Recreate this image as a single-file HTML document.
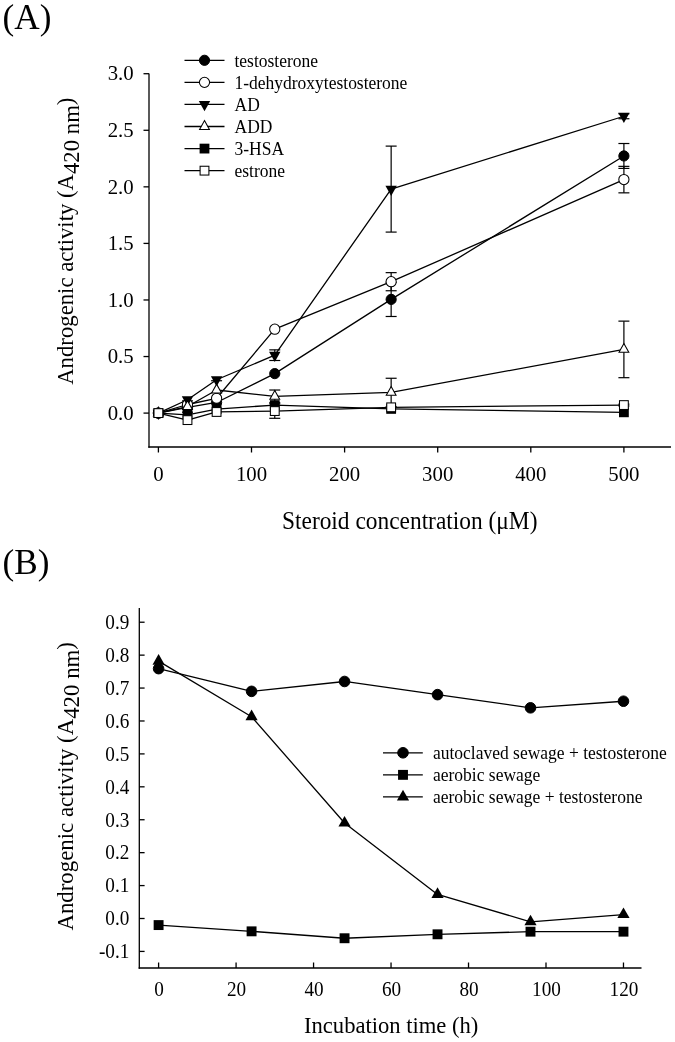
<!DOCTYPE html>
<html><head><meta charset="utf-8"><style>
html,body{margin:0;padding:0;background:#fff;}
svg{display:block;will-change:transform;}
text{font-family:"Liberation Serif",serif;fill:#000;}
</style></head><body>
<svg width="675" height="1042" viewBox="0 0 675 1042">
<rect width="675" height="1042" fill="#fff"/>
<line x1="149.00" y1="73.50" x2="149.00" y2="447.65" stroke="#000" stroke-width="1.3"/>
<line x1="148.35" y1="447.00" x2="671.00" y2="447.00" stroke="#000" stroke-width="1.3"/>
<line x1="143.50" y1="413.10" x2="149.00" y2="413.10" stroke="#000" stroke-width="1.3"/>
<text transform="translate(133.70,419.80) scale(1,1.03)" font-size="20.8" text-anchor="end" >0.0</text>
<line x1="143.50" y1="356.54" x2="149.00" y2="356.54" stroke="#000" stroke-width="1.3"/>
<text transform="translate(133.70,363.24) scale(1,1.03)" font-size="20.8" text-anchor="end" >0.5</text>
<line x1="143.50" y1="299.97" x2="149.00" y2="299.97" stroke="#000" stroke-width="1.3"/>
<text transform="translate(133.70,306.67) scale(1,1.03)" font-size="20.8" text-anchor="end" >1.0</text>
<line x1="143.50" y1="243.41" x2="149.00" y2="243.41" stroke="#000" stroke-width="1.3"/>
<text transform="translate(133.70,250.11) scale(1,1.03)" font-size="20.8" text-anchor="end" >1.5</text>
<line x1="143.50" y1="186.84" x2="149.00" y2="186.84" stroke="#000" stroke-width="1.3"/>
<text transform="translate(133.70,193.54) scale(1,1.03)" font-size="20.8" text-anchor="end" >2.0</text>
<line x1="143.50" y1="130.28" x2="149.00" y2="130.28" stroke="#000" stroke-width="1.3"/>
<text transform="translate(133.70,136.98) scale(1,1.03)" font-size="20.8" text-anchor="end" >2.5</text>
<line x1="143.50" y1="73.71" x2="149.00" y2="73.71" stroke="#000" stroke-width="1.3"/>
<text transform="translate(133.70,80.41) scale(1,1.03)" font-size="20.8" text-anchor="end" >3.0</text>
<line x1="158.40" y1="447.00" x2="158.40" y2="452.50" stroke="#000" stroke-width="1.3"/>
<text transform="translate(158.40,480.50) scale(1,1.03)" font-size="20.8" text-anchor="middle" >0</text>
<line x1="251.50" y1="447.00" x2="251.50" y2="452.50" stroke="#000" stroke-width="1.3"/>
<text transform="translate(251.50,480.50) scale(1,1.03)" font-size="20.8" text-anchor="middle" >100</text>
<line x1="344.60" y1="447.00" x2="344.60" y2="452.50" stroke="#000" stroke-width="1.3"/>
<text transform="translate(344.60,480.50) scale(1,1.03)" font-size="20.8" text-anchor="middle" >200</text>
<line x1="437.70" y1="447.00" x2="437.70" y2="452.50" stroke="#000" stroke-width="1.3"/>
<text transform="translate(437.70,480.50) scale(1,1.03)" font-size="20.8" text-anchor="middle" >300</text>
<line x1="530.80" y1="447.00" x2="530.80" y2="452.50" stroke="#000" stroke-width="1.3"/>
<text transform="translate(530.80,480.50) scale(1,1.03)" font-size="20.8" text-anchor="middle" >400</text>
<line x1="623.90" y1="447.00" x2="623.90" y2="452.50" stroke="#000" stroke-width="1.3"/>
<text transform="translate(623.90,480.50) scale(1,1.03)" font-size="20.8" text-anchor="middle" >500</text>
<text x="2.60" y="28.60" font-size="35.2" text-anchor="start" >(A)</text>
<text transform="translate(282.00,528.80) scale(1,1.04)" font-size="23.4" text-anchor="start" >Steroid concentration (μM)</text>
<text transform="translate(73.3,384.8) rotate(-90) scale(1,1.04)" font-size="22.75">Androgenic activity (A<tspan dy="5.3">420 nm</tspan><tspan dy="-5.3">)</tspan></text>
<line x1="391.15" y1="282.32" x2="391.15" y2="316.49" stroke="#000" stroke-width="1.2"/>
<line x1="385.65" y1="282.32" x2="396.65" y2="282.32" stroke="#000" stroke-width="1.2"/>
<line x1="385.65" y1="316.49" x2="396.65" y2="316.49" stroke="#000" stroke-width="1.2"/>
<line x1="623.90" y1="143.51" x2="623.90" y2="168.40" stroke="#000" stroke-width="1.2"/>
<line x1="618.40" y1="143.51" x2="629.40" y2="143.51" stroke="#000" stroke-width="1.2"/>
<line x1="618.40" y1="168.40" x2="629.40" y2="168.40" stroke="#000" stroke-width="1.2"/>
<line x1="391.15" y1="272.64" x2="391.15" y2="290.74" stroke="#000" stroke-width="1.2"/>
<line x1="385.65" y1="272.64" x2="396.65" y2="272.64" stroke="#000" stroke-width="1.2"/>
<line x1="385.65" y1="290.74" x2="396.65" y2="290.74" stroke="#000" stroke-width="1.2"/>
<line x1="623.90" y1="166.36" x2="623.90" y2="192.84" stroke="#000" stroke-width="1.2"/>
<line x1="618.40" y1="166.36" x2="629.40" y2="166.36" stroke="#000" stroke-width="1.2"/>
<line x1="618.40" y1="192.84" x2="629.40" y2="192.84" stroke="#000" stroke-width="1.2"/>
<line x1="274.77" y1="349.86" x2="274.77" y2="360.49" stroke="#000" stroke-width="1.2"/>
<line x1="269.27" y1="349.86" x2="280.27" y2="349.86" stroke="#000" stroke-width="1.2"/>
<line x1="269.27" y1="360.49" x2="280.27" y2="360.49" stroke="#000" stroke-width="1.2"/>
<line x1="391.15" y1="146.11" x2="391.15" y2="232.09" stroke="#000" stroke-width="1.2"/>
<line x1="385.65" y1="146.11" x2="396.65" y2="146.11" stroke="#000" stroke-width="1.2"/>
<line x1="385.65" y1="232.09" x2="396.65" y2="232.09" stroke="#000" stroke-width="1.2"/>
<line x1="623.90" y1="113.76" x2="623.90" y2="118.74" stroke="#000" stroke-width="1.2"/>
<line x1="618.40" y1="113.76" x2="629.40" y2="113.76" stroke="#000" stroke-width="1.2"/>
<line x1="618.40" y1="118.74" x2="629.40" y2="118.74" stroke="#000" stroke-width="1.2"/>
<line x1="187.49" y1="400.88" x2="187.49" y2="412.19" stroke="#000" stroke-width="1.2"/>
<line x1="181.99" y1="400.88" x2="192.99" y2="400.88" stroke="#000" stroke-width="1.2"/>
<line x1="181.99" y1="412.19" x2="192.99" y2="412.19" stroke="#000" stroke-width="1.2"/>
<line x1="216.59" y1="380.74" x2="216.59" y2="399.30" stroke="#000" stroke-width="1.2"/>
<line x1="211.09" y1="380.74" x2="222.09" y2="380.74" stroke="#000" stroke-width="1.2"/>
<line x1="211.09" y1="399.30" x2="222.09" y2="399.30" stroke="#000" stroke-width="1.2"/>
<line x1="274.77" y1="390.02" x2="274.77" y2="402.69" stroke="#000" stroke-width="1.2"/>
<line x1="269.27" y1="390.02" x2="280.27" y2="390.02" stroke="#000" stroke-width="1.2"/>
<line x1="269.27" y1="402.69" x2="280.27" y2="402.69" stroke="#000" stroke-width="1.2"/>
<line x1="391.15" y1="378.26" x2="391.15" y2="406.54" stroke="#000" stroke-width="1.2"/>
<line x1="385.65" y1="378.26" x2="396.65" y2="378.26" stroke="#000" stroke-width="1.2"/>
<line x1="385.65" y1="406.54" x2="396.65" y2="406.54" stroke="#000" stroke-width="1.2"/>
<line x1="623.90" y1="321.13" x2="623.90" y2="377.69" stroke="#000" stroke-width="1.2"/>
<line x1="618.40" y1="321.13" x2="629.40" y2="321.13" stroke="#000" stroke-width="1.2"/>
<line x1="618.40" y1="377.69" x2="629.40" y2="377.69" stroke="#000" stroke-width="1.2"/>
<line x1="274.77" y1="403.82" x2="274.77" y2="418.30" stroke="#000" stroke-width="1.2"/>
<line x1="269.27" y1="403.82" x2="280.27" y2="403.82" stroke="#000" stroke-width="1.2"/>
<line x1="269.27" y1="418.30" x2="280.27" y2="418.30" stroke="#000" stroke-width="1.2"/>
<line x1="623.90" y1="404.16" x2="623.90" y2="405.97" stroke="#000" stroke-width="1.2"/>
<line x1="618.40" y1="404.16" x2="629.40" y2="404.16" stroke="#000" stroke-width="1.2"/>
<line x1="618.40" y1="405.97" x2="629.40" y2="405.97" stroke="#000" stroke-width="1.2"/>
<polyline points="158.40,413.10 187.49,407.44 216.59,402.47 274.77,373.62 391.15,299.40 623.90,155.96" fill="none" stroke="#000" stroke-width="1.3" stroke-linejoin="round"/>
<polyline points="158.40,413.10 187.49,404.50 216.59,398.28 274.77,329.16 391.15,281.69 623.90,179.60" fill="none" stroke="#000" stroke-width="1.3" stroke-linejoin="round"/>
<polyline points="158.40,413.10 187.49,399.75 216.59,379.73 274.77,355.18 391.15,189.10 623.90,116.25" fill="none" stroke="#000" stroke-width="1.3" stroke-linejoin="round"/>
<polyline points="158.40,413.10 187.49,406.54 216.59,390.02 274.77,396.36 391.15,392.40 623.90,349.41" fill="none" stroke="#000" stroke-width="1.3" stroke-linejoin="round"/>
<polyline points="158.40,413.10 187.49,414.80 216.59,409.14 274.77,405.07 391.15,408.91 623.90,412.31" fill="none" stroke="#000" stroke-width="1.3" stroke-linejoin="round"/>
<polyline points="158.40,413.10 187.49,420.11 216.59,411.97 274.77,411.06 391.15,407.33 623.90,405.07" fill="none" stroke="#000" stroke-width="1.3" stroke-linejoin="round"/>
<circle cx="158.40" cy="413.10" r="5.10" fill="#000" stroke="#000" stroke-width="1"/>
<circle cx="187.49" cy="407.44" r="5.10" fill="#000" stroke="#000" stroke-width="1"/>
<circle cx="216.59" cy="402.47" r="5.10" fill="#000" stroke="#000" stroke-width="1"/>
<circle cx="274.77" cy="373.62" r="5.10" fill="#000" stroke="#000" stroke-width="1"/>
<circle cx="391.15" cy="299.40" r="5.10" fill="#000" stroke="#000" stroke-width="1"/>
<circle cx="623.90" cy="155.96" r="5.10" fill="#000" stroke="#000" stroke-width="1"/>
<circle cx="158.40" cy="413.10" r="5.10" fill="#fff" stroke="#000" stroke-width="1.05"/>
<circle cx="187.49" cy="404.50" r="5.10" fill="#fff" stroke="#000" stroke-width="1.05"/>
<circle cx="216.59" cy="398.28" r="5.10" fill="#fff" stroke="#000" stroke-width="1.05"/>
<circle cx="274.77" cy="329.16" r="5.10" fill="#fff" stroke="#000" stroke-width="1.05"/>
<circle cx="391.15" cy="281.69" r="5.10" fill="#fff" stroke="#000" stroke-width="1.05"/>
<circle cx="623.90" cy="179.60" r="5.10" fill="#fff" stroke="#000" stroke-width="1.05"/>
<path d="M152.70,409.70 L164.10,409.70 L158.40,419.90 Z" fill="#000"/>
<path d="M181.79,396.35 L193.19,396.35 L187.49,406.55 Z" fill="#000"/>
<path d="M210.89,376.33 L222.29,376.33 L216.59,386.53 Z" fill="#000"/>
<path d="M269.07,351.78 L280.47,351.78 L274.77,361.98 Z" fill="#000"/>
<path d="M385.45,185.70 L396.85,185.70 L391.15,195.90 Z" fill="#000"/>
<path d="M618.20,112.85 L629.60,112.85 L623.90,123.05 Z" fill="#000"/>
<path d="M158.40,407.20 L163.30,416.00 L153.50,416.00 Z" fill="#fff" stroke="#000" stroke-width="1.05" stroke-linejoin="miter"/>
<path d="M187.49,400.64 L192.39,409.44 L182.59,409.44 Z" fill="#fff" stroke="#000" stroke-width="1.05" stroke-linejoin="miter"/>
<path d="M216.59,384.12 L221.49,392.92 L211.69,392.92 Z" fill="#fff" stroke="#000" stroke-width="1.05" stroke-linejoin="miter"/>
<path d="M274.77,390.46 L279.67,399.26 L269.88,399.26 Z" fill="#fff" stroke="#000" stroke-width="1.05" stroke-linejoin="miter"/>
<path d="M391.15,386.50 L396.05,395.30 L386.25,395.30 Z" fill="#fff" stroke="#000" stroke-width="1.05" stroke-linejoin="miter"/>
<path d="M623.90,343.51 L628.80,352.31 L619.00,352.31 Z" fill="#fff" stroke="#000" stroke-width="1.05" stroke-linejoin="miter"/>
<rect x="153.50" y="408.20" width="9.80" height="9.80" fill="#000"/>
<rect x="182.59" y="409.90" width="9.80" height="9.80" fill="#000"/>
<rect x="211.69" y="404.24" width="9.80" height="9.80" fill="#000"/>
<rect x="269.88" y="400.17" width="9.80" height="9.80" fill="#000"/>
<rect x="386.25" y="404.01" width="9.80" height="9.80" fill="#000"/>
<rect x="619.00" y="407.41" width="9.80" height="9.80" fill="#000"/>
<rect x="154.00" y="408.70" width="8.80" height="8.80" fill="#fff" stroke="#000" stroke-width="1.05"/>
<rect x="183.09" y="415.71" width="8.80" height="8.80" fill="#fff" stroke="#000" stroke-width="1.05"/>
<rect x="212.19" y="407.57" width="8.80" height="8.80" fill="#fff" stroke="#000" stroke-width="1.05"/>
<rect x="270.38" y="406.66" width="8.80" height="8.80" fill="#fff" stroke="#000" stroke-width="1.05"/>
<rect x="386.75" y="402.93" width="8.80" height="8.80" fill="#fff" stroke="#000" stroke-width="1.05"/>
<rect x="619.50" y="400.67" width="8.80" height="8.80" fill="#fff" stroke="#000" stroke-width="1.05"/>
<line x1="184.50" y1="60.30" x2="224.50" y2="60.30" stroke="#000" stroke-width="1.3"/>
<circle cx="204.50" cy="60.30" r="5.10" fill="#000" stroke="#000" stroke-width="1"/>
<text transform="translate(234.50,66.50) scale(1,1.03)" font-size="17.5" text-anchor="start" >testosterone</text>
<line x1="184.50" y1="82.37" x2="224.50" y2="82.37" stroke="#000" stroke-width="1.3"/>
<circle cx="204.50" cy="82.37" r="5.10" fill="#fff" stroke="#000" stroke-width="1.05"/>
<text transform="translate(234.50,88.57) scale(1,1.03)" font-size="17.5" text-anchor="start" >1-dehydroxytestosterone</text>
<line x1="184.50" y1="104.44" x2="224.50" y2="104.44" stroke="#000" stroke-width="1.3"/>
<path d="M198.80,101.04 L210.20,101.04 L204.50,111.24 Z" fill="#000"/>
<text transform="translate(234.50,110.64) scale(1,1.03)" font-size="17.5" text-anchor="start" >AD</text>
<line x1="184.50" y1="126.51" x2="224.50" y2="126.51" stroke="#000" stroke-width="1.3"/>
<path d="M204.50,120.61 L209.40,129.41 L199.60,129.41 Z" fill="#fff" stroke="#000" stroke-width="1.05" stroke-linejoin="miter"/>
<text transform="translate(234.50,132.71) scale(1,1.03)" font-size="17.5" text-anchor="start" >ADD</text>
<line x1="184.50" y1="148.58" x2="224.50" y2="148.58" stroke="#000" stroke-width="1.3"/>
<rect x="199.60" y="143.68" width="9.80" height="9.80" fill="#000"/>
<text transform="translate(234.50,154.78) scale(1,1.03)" font-size="17.5" text-anchor="start" >3-HSA</text>
<line x1="184.50" y1="170.65" x2="224.50" y2="170.65" stroke="#000" stroke-width="1.3"/>
<rect x="200.10" y="166.25" width="8.80" height="8.80" fill="#fff" stroke="#000" stroke-width="1.05"/>
<text transform="translate(234.50,176.85) scale(1,1.03)" font-size="17.5" text-anchor="start" >estrone</text>
<line x1="139.30" y1="608.00" x2="139.30" y2="968.65" stroke="#000" stroke-width="1.3"/>
<line x1="138.65" y1="968.00" x2="641.50" y2="968.00" stroke="#000" stroke-width="1.3"/>
<line x1="139.30" y1="951.42" x2="144.60" y2="951.42" stroke="#000" stroke-width="1.3"/>
<text transform="translate(129.30,958.22) scale(1,1.08)" font-size="19.2" text-anchor="end" >-0.1</text>
<line x1="139.30" y1="918.50" x2="144.60" y2="918.50" stroke="#000" stroke-width="1.3"/>
<text transform="translate(129.30,925.30) scale(1,1.08)" font-size="19.2" text-anchor="end" >0.0</text>
<line x1="139.30" y1="885.58" x2="144.60" y2="885.58" stroke="#000" stroke-width="1.3"/>
<text transform="translate(129.30,892.38) scale(1,1.08)" font-size="19.2" text-anchor="end" >0.1</text>
<line x1="139.30" y1="852.66" x2="144.60" y2="852.66" stroke="#000" stroke-width="1.3"/>
<text transform="translate(129.30,859.46) scale(1,1.08)" font-size="19.2" text-anchor="end" >0.2</text>
<line x1="139.30" y1="819.74" x2="144.60" y2="819.74" stroke="#000" stroke-width="1.3"/>
<text transform="translate(129.30,826.54) scale(1,1.08)" font-size="19.2" text-anchor="end" >0.3</text>
<line x1="139.30" y1="786.82" x2="144.60" y2="786.82" stroke="#000" stroke-width="1.3"/>
<text transform="translate(129.30,793.62) scale(1,1.08)" font-size="19.2" text-anchor="end" >0.4</text>
<line x1="139.30" y1="753.90" x2="144.60" y2="753.90" stroke="#000" stroke-width="1.3"/>
<text transform="translate(129.30,760.70) scale(1,1.08)" font-size="19.2" text-anchor="end" >0.5</text>
<line x1="139.30" y1="720.98" x2="144.60" y2="720.98" stroke="#000" stroke-width="1.3"/>
<text transform="translate(129.30,727.78) scale(1,1.08)" font-size="19.2" text-anchor="end" >0.6</text>
<line x1="139.30" y1="688.06" x2="144.60" y2="688.06" stroke="#000" stroke-width="1.3"/>
<text transform="translate(129.30,694.86) scale(1,1.08)" font-size="19.2" text-anchor="end" >0.7</text>
<line x1="139.30" y1="655.14" x2="144.60" y2="655.14" stroke="#000" stroke-width="1.3"/>
<text transform="translate(129.30,661.94) scale(1,1.08)" font-size="19.2" text-anchor="end" >0.8</text>
<line x1="139.30" y1="622.22" x2="144.60" y2="622.22" stroke="#000" stroke-width="1.3"/>
<text transform="translate(129.30,629.02) scale(1,1.08)" font-size="19.2" text-anchor="end" >0.9</text>
<line x1="158.60" y1="968.00" x2="158.60" y2="962.50" stroke="#000" stroke-width="1.3"/>
<text transform="translate(159.10,995.80) scale(1,1.08)" font-size="19.2" text-anchor="middle" >0</text>
<line x1="236.08" y1="968.00" x2="236.08" y2="962.50" stroke="#000" stroke-width="1.3"/>
<text transform="translate(236.58,995.80) scale(1,1.08)" font-size="19.2" text-anchor="middle" >20</text>
<line x1="313.56" y1="968.00" x2="313.56" y2="962.50" stroke="#000" stroke-width="1.3"/>
<text transform="translate(314.06,995.80) scale(1,1.08)" font-size="19.2" text-anchor="middle" >40</text>
<line x1="391.04" y1="968.00" x2="391.04" y2="962.50" stroke="#000" stroke-width="1.3"/>
<text transform="translate(391.54,995.80) scale(1,1.08)" font-size="19.2" text-anchor="middle" >60</text>
<line x1="468.52" y1="968.00" x2="468.52" y2="962.50" stroke="#000" stroke-width="1.3"/>
<text transform="translate(469.02,995.80) scale(1,1.08)" font-size="19.2" text-anchor="middle" >80</text>
<line x1="546.00" y1="968.00" x2="546.00" y2="962.50" stroke="#000" stroke-width="1.3"/>
<text transform="translate(546.50,995.80) scale(1,1.08)" font-size="19.2" text-anchor="middle" >100</text>
<line x1="623.48" y1="968.00" x2="623.48" y2="962.50" stroke="#000" stroke-width="1.3"/>
<text transform="translate(623.98,995.80) scale(1,1.08)" font-size="19.2" text-anchor="middle" >120</text>
<text x="2.60" y="574.00" font-size="35.2" text-anchor="start" >(B)</text>
<text transform="translate(304.00,1032.60) scale(1,1.05)" font-size="22.6" text-anchor="start" >Incubation time (h)</text>
<text transform="translate(73.3,930.6) rotate(-90) scale(1,1.04)" font-size="22.85">Androgenic activity (A<tspan dy="5.3">420 nm</tspan><tspan dy="-5.3">)</tspan></text>
<polyline points="158.60,668.64 251.58,691.35 344.55,681.48 437.53,694.64 530.50,707.81 623.48,701.23" fill="none" stroke="#000" stroke-width="1.3" stroke-linejoin="round"/>
<polyline points="158.60,925.08 251.58,931.34 344.55,938.25 437.53,934.30 530.50,931.67 623.48,931.67" fill="none" stroke="#000" stroke-width="1.3" stroke-linejoin="round"/>
<polyline points="158.60,661.07 251.58,716.70 344.55,823.03 437.53,894.47 530.50,921.79 623.48,914.55" fill="none" stroke="#000" stroke-width="1.3" stroke-linejoin="round"/>
<circle cx="158.60" cy="668.64" r="5.30" fill="#000" stroke="#000" stroke-width="1"/>
<circle cx="251.58" cy="691.35" r="5.30" fill="#000" stroke="#000" stroke-width="1"/>
<circle cx="344.55" cy="681.48" r="5.30" fill="#000" stroke="#000" stroke-width="1"/>
<circle cx="437.53" cy="694.64" r="5.30" fill="#000" stroke="#000" stroke-width="1"/>
<circle cx="530.50" cy="707.81" r="5.30" fill="#000" stroke="#000" stroke-width="1"/>
<circle cx="623.48" cy="701.23" r="5.30" fill="#000" stroke="#000" stroke-width="1"/>
<rect x="153.65" y="920.13" width="9.90" height="9.90" fill="#000"/>
<rect x="246.63" y="926.39" width="9.90" height="9.90" fill="#000"/>
<rect x="339.60" y="933.30" width="9.90" height="9.90" fill="#000"/>
<rect x="432.58" y="929.35" width="9.90" height="9.90" fill="#000"/>
<rect x="525.55" y="926.72" width="9.90" height="9.90" fill="#000"/>
<rect x="618.53" y="926.72" width="9.90" height="9.90" fill="#000"/>
<path d="M158.60,653.93 L164.70,664.63 L152.50,664.63 Z" fill="#000"/>
<path d="M251.58,709.57 L257.68,720.27 L245.48,720.27 Z" fill="#000"/>
<path d="M344.55,815.90 L350.65,826.60 L338.45,826.60 Z" fill="#000"/>
<path d="M437.53,887.34 L443.63,898.04 L431.43,898.04 Z" fill="#000"/>
<path d="M530.50,914.66 L536.60,925.36 L524.40,925.36 Z" fill="#000"/>
<path d="M623.48,907.42 L629.58,918.12 L617.38,918.12 Z" fill="#000"/>
<line x1="383.00" y1="752.80" x2="422.80" y2="752.80" stroke="#000" stroke-width="1.3"/>
<circle cx="403.00" cy="752.80" r="5.30" fill="#000" stroke="#000" stroke-width="1"/>
<text transform="translate(433.00,759.10) scale(1,1.03)" font-size="17.5" text-anchor="start" >autoclaved sewage + testosterone</text>
<line x1="383.00" y1="774.85" x2="422.80" y2="774.85" stroke="#000" stroke-width="1.3"/>
<rect x="398.05" y="769.90" width="9.90" height="9.90" fill="#000"/>
<text transform="translate(433.00,781.15) scale(1,1.03)" font-size="17.5" text-anchor="start" >aerobic sewage</text>
<line x1="383.00" y1="796.90" x2="422.80" y2="796.90" stroke="#000" stroke-width="1.3"/>
<path d="M403.00,789.77 L409.10,800.47 L396.90,800.47 Z" fill="#000"/>
<text transform="translate(433.00,803.20) scale(1,1.03)" font-size="17.5" text-anchor="start" >aerobic sewage + testosterone</text>
</svg>
</body></html>
